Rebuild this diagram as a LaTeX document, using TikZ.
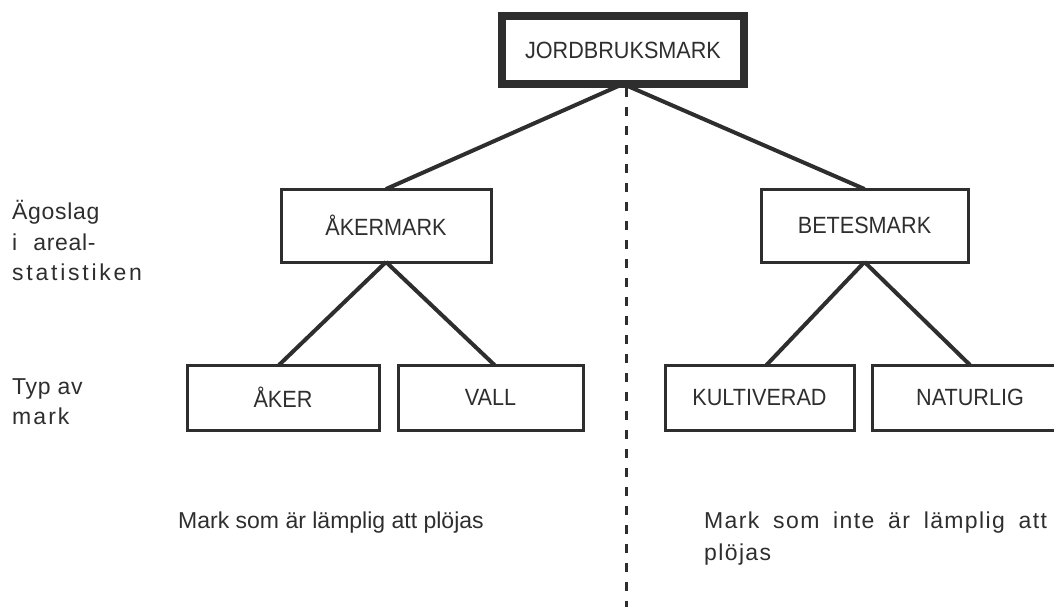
\documentclass[tikz,border=0pt]{standalone}
\usepackage{fontspec}
\setmainfont{Liberation Sans}
\newfontfamily\boxfont[FakeStretch=0.92]{Liberation Sans}
\newfontfamily\lsA[LetterSpace=3]{Liberation Sans}
\newfontfamily\lsB[LetterSpace=9]{Liberation Sans}
\newfontfamily\lsC[LetterSpace=12]{Liberation Sans}
\newfontfamily\lsD[LetterSpace=6]{Liberation Sans}
\begin{document}
\begin{tikzpicture}[x=1pt,y=-1pt,
  ink/.style={draw=black!82},
  box/.style={ink, line width=3pt, rectangle, inner sep=0pt, outer sep=0pt,
    font=\fontsize{23.5}{26}\boxfont, text=black!82},
  conn/.style={ink, line width=4pt},
  side/.style={anchor=base west, inner sep=0pt, text=black!82},
]
\useasboundingbox (0,0) rectangle (1054,607);
% boxes
\node[box, line width=8pt, minimum width=242pt, minimum height=68pt] (top) at (623,50) {JORDBRUKSMARK};
\node[box, minimum width=210pt, minimum height=73pt] (akm) at (386,225.5) {ÅKERMARK};
\node[box, minimum width=207pt, minimum height=73pt] (bet) at (864.5,225.5) {BETESMARK};
\node[box, minimum width=192pt, minimum height=65pt] (aker) at (283,397.5) {ÅKER};
\node[box, minimum width=185pt, minimum height=65pt] (vall) at (490.5,397.5) {VALL};
\node[box, minimum width=189pt, minimum height=65pt] (kult) at (759.5,397.5) {KULTIVERAD};
\node[box, minimum width=196pt, minimum height=65pt] (nat) at (970,397.5) {NATURLIG};
% connectors
\draw[conn] (top.south) -- (akm.north);
\draw[conn] (top.south) -- (bet.north);
\draw[conn] (akm.south) -- ([xshift=-4pt]aker.north);
\draw[conn] (akm.south) -- ([xshift=4pt]vall.north);
\draw[conn] (bet.south) -- ([xshift=7pt]kult.north);
\draw[conn] (bet.south) -- (nat.north);
% dashed divider
\coordinate (dend) at (626,607);
\draw[ink, line width=3pt, dash pattern=on 9pt off 10pt] ([xshift=3pt,yshift=-4pt]top.south) -- (dend);
% left labels
\node[side, font=\fontsize{23}{26}\lsA] (l1) at (12,219) {Ägoslag};
\node[side, font=\fontsize{23}{26}\lsA] (l2) at (12,250) {i\hspace{16pt}areal-};
\node[side, font=\fontsize{23}{26}\lsC] (l3) at (12,280) {statistiken};
\node[side, font=\fontsize{23}{26}\lsA] (l4) at (12,394) {Typ av};
\node[side, font=\fontsize{23}{26}\lsB] (l5) at (12,424) {mark};
% bottom texts
\node[side, font=\fontsize{23}{26}\selectfont] (b1) at (178,528) {Mark som är lämplig att plöjas};
\node[side, font=\fontsize{23}{26}\lsD] (b2) at (704,528) {Mark\hspace{6pt} som\hspace{6pt} inte\hspace{6pt} är\hspace{6pt} lämplig\hspace{6pt} att};
\node[side, font=\fontsize{23}{26}\lsD] (b3) at (704,560) {plöjas};
\end{tikzpicture}
\end{document}
